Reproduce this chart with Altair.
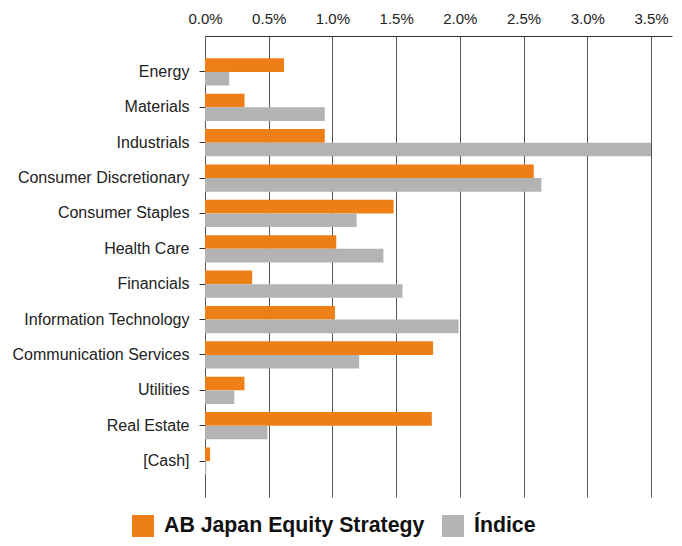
import altair as alt
import pandas as pd

sectors = ["Energy", "Materials", "Industrials", "Consumer Discretionary",
           "Consumer Staples", "Health Care", "Financials",
           "Information Technology", "Communication Services", "Utilities",
           "Real Estate", "[Cash]"]
fund = [0.62, 0.31, 0.94, 2.58, 1.48, 1.03, 0.37, 1.02, 1.79, 0.31, 1.78, 0.04]
index = [0.19, 0.94, 3.50, 2.64, 1.19, 1.40, 1.55, 1.99, 1.21, 0.23, 0.49, 0.01]
series = ["AB Japan Equity Strategy", "Índice"]
colors = ["#EE7F16", "#B3B3B3"]

rows = []
for s, f, i in zip(sectors, fund, index):
    rows.append({"Sector": s, "Series": series[0], "Value": f / 100})
    rows.append({"Sector": s, "Series": series[1], "Value": i / 100})
df = pd.DataFrame(rows)

chart = alt.Chart(df).mark_bar().encode(
    x=alt.X("Value:Q",
            scale=alt.Scale(domain=[0, 0.03665], nice=False, zero=True),
            axis=alt.Axis(orient="top", format=".1%", values=[0, 0.005, 0.01, 0.015, 0.02, 0.025, 0.03, 0.035],
                          title=None, grid=True, gridColor="#555555", gridWidth=1,
                          domainColor="#333333", ticks=False, labelFontSize=15,
                          labelColor="#222222", labelFont="Liberation Sans",
                          labelPadding=10, labelFlush=False, labelOverlap=False)),
    y=alt.Y("Sector:N", sort=sectors,
            scale=alt.Scale(paddingInner=0.23, paddingOuter=0.63),
            axis=alt.Axis(title=None, domain=False, tickSize=6, tickColor="#333333",
                          labelFontSize=16, labelColor="#222222", labelFont="Liberation Sans",
                          labelPadding=10, labelLimit=300, grid=False)),
    yOffset=alt.YOffset("Series:N", sort=series),
    color=alt.Color("Series:N", sort=series,
                    scale=alt.Scale(domain=series, range=colors),
                    legend=alt.Legend(title=None, orient="none", direction="horizontal",
                                      legendX=-73, legendY=479,
                                      symbolType="square", symbolSize=484,
                                      symbolStrokeWidth=0, symbolOpacity=1,
                                      labelFontSize=21.3, labelFontWeight="bold",
                                      labelFont="Liberation Sans", labelColor="#111111",
                                      labelLimit=400, columnPadding=17, labelOffset=10)),
).properties(
    width=467, height=461,
    autosize=alt.AutoSizeParams(type="none"),
    padding={"left": 197, "top": 28, "right": 2, "bottom": 41},
).configure_view(stroke=None)

chart.save("out.html", embed_options={"renderer": "svg", "actions": False})
